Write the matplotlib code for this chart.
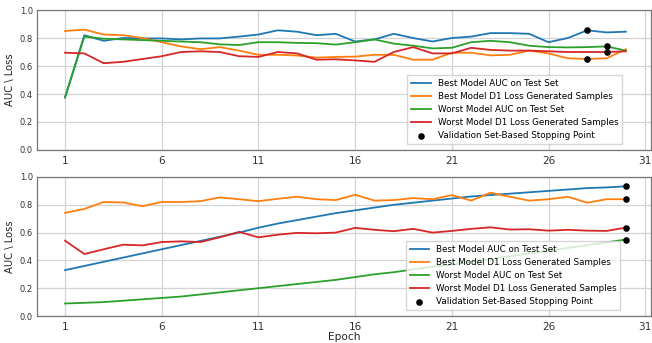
import numpy as np
import matplotlib
matplotlib.use("Agg")
from matplotlib import pyplot as plt

# epochs 1..30
epochs = list(range(1, 31))

# top panel
top_best_auc = [0.375, 0.82, 0.78, 0.80, 0.797, 0.797, 0.79, 0.797, 0.797, 0.81,
                0.825, 0.855, 0.845, 0.82, 0.83, 0.775, 0.79, 0.83, 0.80, 0.775,
                0.80, 0.81, 0.835, 0.835, 0.83, 0.77, 0.80, 0.855, 0.84, 0.845]
top_best_loss = [0.85, 0.86, 0.825, 0.82, 0.80, 0.77, 0.74, 0.72, 0.735, 0.71,
                 0.68, 0.68, 0.675, 0.66, 0.665, 0.667, 0.68, 0.68, 0.645, 0.645,
                 0.695, 0.695, 0.676, 0.68, 0.71, 0.69, 0.655, 0.65, 0.655, 0.72]
top_worst_auc = [0.375, 0.81, 0.795, 0.79, 0.785, 0.78, 0.775, 0.77, 0.755, 0.75,
                 0.77, 0.77, 0.765, 0.763, 0.753, 0.77, 0.79, 0.76, 0.745, 0.726,
                 0.73, 0.77, 0.78, 0.77, 0.745, 0.735, 0.733, 0.735, 0.74, 0.71]
top_worst_loss = [0.695, 0.69, 0.62, 0.63, 0.65, 0.67, 0.70, 0.705, 0.70, 0.67,
                  0.665, 0.70, 0.69, 0.645, 0.648, 0.64, 0.63, 0.70, 0.735, 0.69,
                  0.69, 0.73, 0.715, 0.71, 0.71, 0.705, 0.70, 0.70, 0.70, 0.705]
# stopping points (epoch per series)
top_stop = [28, 28, 29, 29]

# bottom panel
bot_best_auc = [0.33, 0.36, 0.39, 0.42, 0.45, 0.48, 0.51, 0.54, 0.57, 0.60,
                0.635, 0.665, 0.69, 0.715, 0.74, 0.76, 0.78, 0.80, 0.815, 0.83,
                0.845, 0.86, 0.87, 0.88, 0.89, 0.90, 0.91, 0.92, 0.925, 0.933]
bot_best_loss = [0.742, 0.77, 0.82, 0.817, 0.79, 0.82, 0.82, 0.826, 0.853, 0.84,
                 0.826, 0.843, 0.858, 0.84, 0.834, 0.872, 0.83, 0.834, 0.848, 0.84,
                 0.87, 0.83, 0.887, 0.858, 0.83, 0.84, 0.858, 0.815, 0.84, 0.84]
bot_worst_auc = [0.09, 0.095, 0.10, 0.11, 0.12, 0.13, 0.14, 0.155, 0.17, 0.185,
                 0.20, 0.215, 0.23, 0.245, 0.26, 0.28, 0.30, 0.315, 0.335, 0.355,
                 0.37, 0.39, 0.41, 0.43, 0.45, 0.47, 0.49, 0.51, 0.53, 0.55]
bot_worst_loss = [0.542, 0.446, 0.48, 0.513, 0.508, 0.532, 0.537, 0.532, 0.566, 0.605,
                  0.566, 0.585, 0.598, 0.595, 0.60, 0.634, 0.62, 0.61, 0.627, 0.60,
                  0.612, 0.627, 0.638, 0.622, 0.624, 0.614, 0.62, 0.614, 0.612, 0.636]
bot_stop = [30, 30, 30, 30]

labels = ["Best Model AUC on Test Set",
          "Best Model D1 Loss Generated Samples",
          "Worst Model AUC on Test Set",
          "Worst Model D1 Loss Generated Samples"]
stop_label = "Validation Set-Based Stopping Point"
colors = ["#1f77b4", "#ff7f0e", "#2ca02c", "#d62728"]

fig = plt.figure(figsize=(6.52, 3.43), dpi=100)
ax1 = fig.add_axes([0.0567, 0.5627, 0.9418, 0.4081])
ax2 = fig.add_axes([0.0567, 0.0787, 0.9418, 0.4053])

panels = [(ax1, [top_best_auc, top_best_loss, top_worst_auc, top_worst_loss], top_stop, 0.043, 0.953),
          (ax2, [bot_best_auc, bot_best_loss, bot_worst_auc, bot_worst_loss], bot_stop, 0.043, 0.95)]

for ax, series, stops, lb, lr in panels:
    for s, lab, c in zip(series, labels, colors):
        ax.plot(epochs, s, color=c, lw=1.3, label=lab)
    sy = [s[e - 1] for s, e in zip(series, stops)]
    ax.scatter(stops, sy, color="black", s=14, zorder=5, label=stop_label)
    ax.set_xlim(-0.45, 31.3)
    ax.set_ylim(0, 1.0)
    ax.set_xticks(range(1, 32, 5))
    ax.set_yticks(np.arange(0, 1.01, 0.2))
    ax.yaxis.set_major_formatter(matplotlib.ticker.FormatStrFormatter("%.1f"))
    ax.grid(True, color="#d3d3d3", lw=0.9)
    ax.set_axisbelow(True)
    for sp in ax.spines.values():
        sp.set_color("#777777")
        sp.set_linewidth(0.9)
    ax.tick_params(axis="both", length=0, colors="#333333")
    ax.tick_params(axis="y", labelsize=6.0, pad=3)
    ax.tick_params(axis="x", labelsize=7.6, pad=4)
    ax.set_ylabel("AUC \\ Loss", fontsize=7.2, color="#222222", labelpad=3)
    ax.legend(loc="lower right", bbox_to_anchor=(lr, lb), borderaxespad=0,
              fontsize=6.3, scatterpoints=1, fancybox=False, framealpha=0.8,
              edgecolor="#cccccc", handlelength=2.2, labelspacing=0.45,
              borderpad=0.45)

ax2.set_xlabel("Epoch", fontsize=7.6, color="#222222", labelpad=0)

fig.savefig("out.png", dpi=100)
